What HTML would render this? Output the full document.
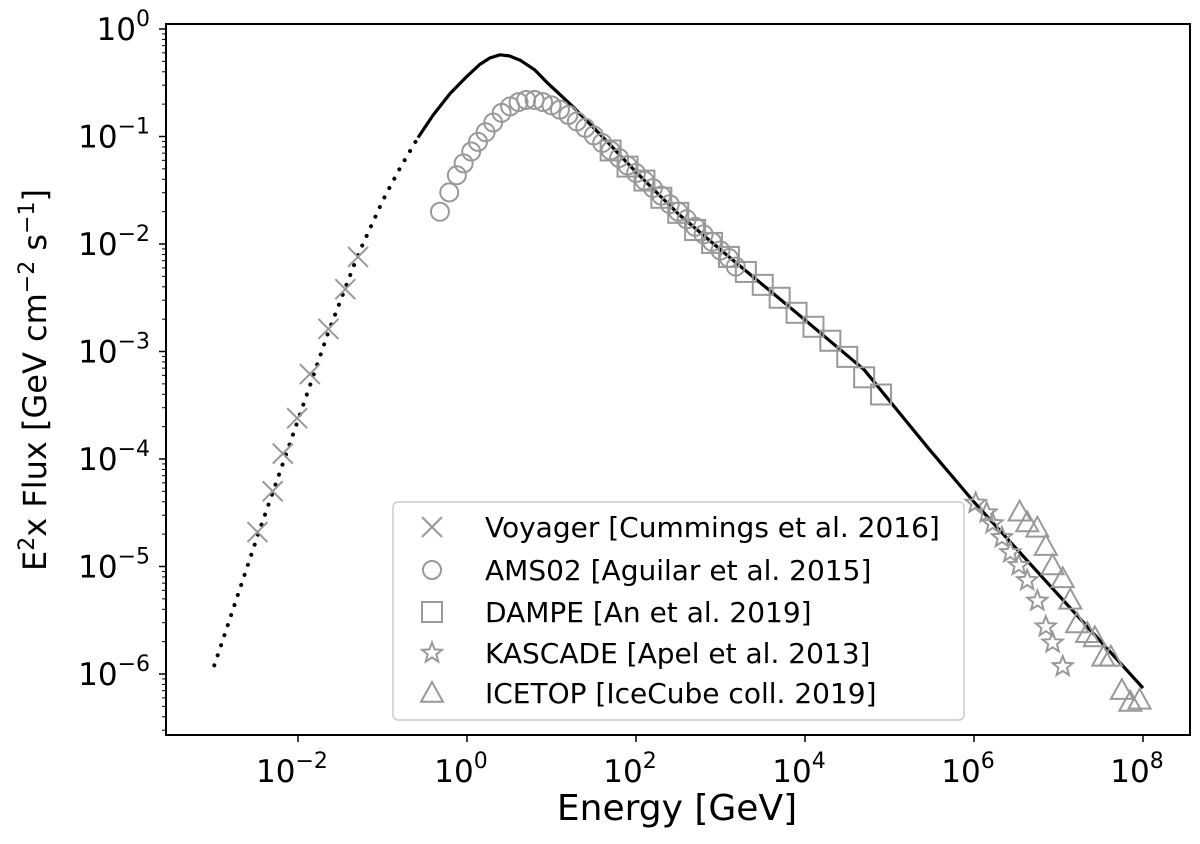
<!DOCTYPE html>
<html><head><meta charset="utf-8">
<style>
html,body{margin:0;padding:0;background:#fff;}
svg{display:block;font-family:"DejaVu Sans","Liberation Sans",sans-serif;}
</style></head>
<body>
<svg id="chart" width="1200" height="844" viewBox="0 0 1200 844" xmlns="http://www.w3.org/2000/svg">
<rect x="166" y="24" width="1024" height="711" fill="#fff"/>
<g id="marks"></g>
<rect x="166" y="24" width="1024" height="711" fill="none" stroke="#000" stroke-width="2"/>
<g id="axes"></g>
<text x="677" y="820" font-size="36" text-anchor="middle">Energy [GeV]</text>
<text transform="translate(46,380) rotate(-90)" font-size="32" text-anchor="middle">E<tspan dy="-12" font-size="22">2</tspan><tspan dy="12">x Flux [GeV cm</tspan><tspan dy="-12" font-size="22">−2</tspan><tspan dy="12"> s</tspan><tspan dy="-12" font-size="22">−1</tspan><tspan dy="12">]</tspan></text>
<g id="legend"></g>
</svg>
<script>
// data (log10 values)
const modelSolidLogE = [-0.58,-0.40,-0.20,0.0,0.15,0.27,0.39,0.50,0.63,0.80,0.95,1.10,1.25,1.6,2.0,2.5,3.1,3.9,4.7,5.46,6.0,8.0];
const modelSolidLogF = [-1.01,-0.80,-0.60,-0.44,-0.33,-0.27,-0.24,-0.25,-0.29,-0.38,-0.50,-0.61,-0.72,-1.00,-1.33,-1.72,-2.12,-2.64,-3.17,-3.90,-4.40,-6.13];
const modelDotLogE = [-2.99,-2.48,-2.01,-1.64,-1.29,-1.0,-0.79,-0.58];
const modelDotLogF = [-5.92,-4.72,-3.66,-2.82,-2.10,-1.60,-1.29,-1.01];
const voyagerLogE = [-1.29,-1.44,-1.64,-1.86,-2.01,-2.18,-2.30,-2.48];
const voyagerLogF = [-2.12,-2.42,-2.79,-3.21,-3.62,-3.95,-4.30,-4.68];
const amsLogE = [-0.32,-0.21,-0.12,-0.04,0.05,0.13,0.22,0.31,0.41,0.51,0.61,0.70,0.80,0.90,1.00,1.10,1.20,1.30,1.40,1.50,1.60,1.70,1.80,1.90,2.00,2.10,2.20,2.30,2.40,2.50,2.60,2.70,2.80,2.90,3.00,3.10,3.18];
const amsLogF = [-1.70,-1.52,-1.36,-1.25,-1.14,-1.05,-0.96,-0.87,-0.78,-0.72,-0.68,-0.66,-0.66,-0.68,-0.71,-0.75,-0.80,-0.86,-0.92,-0.99,-1.06,-1.13,-1.20,-1.27,-1.34,-1.41,-1.48,-1.55,-1.63,-1.70,-1.77,-1.84,-1.91,-1.98,-2.06,-2.13,-2.21];
const dampeLogE = [1.7,1.9,2.1,2.3,2.5,2.7,2.9,3.1,3.3,3.5,3.7,3.9,4.1,4.3,4.5,4.7,4.9];
const dampeLogF = [-1.13,-1.28,-1.41,-1.57,-1.71,-1.87,-1.99,-2.12,-2.26,-2.38,-2.50,-2.64,-2.77,-2.90,-3.05,-3.24,-3.40];
const kascadeLogE = [6.02,6.15,6.22,6.33,6.43,6.53,6.63,6.75,6.85,6.93,7.05];
const kascadeLogF = [-4.41,-4.50,-4.60,-4.73,-4.87,-4.99,-5.13,-5.32,-5.56,-5.71,-5.93];
const icetopLogE = [6.54,6.63,6.75,6.85,6.93,7.05,7.14,7.22,7.34,7.43,7.53,7.62,7.75,7.85,7.96];
const icetopLogF = [-4.49,-4.59,-4.64,-4.81,-4.99,-5.11,-5.31,-5.53,-5.62,-5.66,-5.84,-5.84,-6.15,-6.26,-6.24];
const xTickExps = [-2,0,2,4,6,8];
const yTickExps = [0,-1,-2,-3,-4,-5,-6];
const legendLabels = ["Voyager [Cummings et al. 2016]","AMS02 [Aguilar et al. 2015]","DAMPE [An et al. 2019]","KASCADE [Apel et al. 2013]","ICETOP [IceCube coll. 2019]"];

const NS = "http://www.w3.org/2000/svg";
const X = l => 467 + 84.5 * l;
const Y = l => 29 - 107.5 * l;
const GREY = "#999";
function mk(tag, attrs, parent){ const e=document.createElementNS(NS,tag); for(const k in attrs) e.setAttribute(k,attrs[k]); parent.appendChild(e); return e; }
const marks = document.getElementById('marks');
const axes = document.getElementById('axes');
const legend = document.getElementById('legend');

function pathD(xs, ys){ return xs.map((v,i)=>(i?'L':'M')+X(v).toFixed(1)+' '+Y(ys[i]).toFixed(1)).join(' '); }

function drawMarker(kind, cx, cy, parent){
  let e;
  if(kind==='x'){ const s=10; e=mk('path',{d:`M${cx-s} ${cy-s}L${cx+s} ${cy+s}M${cx-s} ${cy+s}L${cx+s} ${cy-s}`,stroke:GREY,'stroke-width':2,fill:'none'},parent); }
  else if(kind==='o'){ e=mk('circle',{cx:cx,cy:cy,r:9,stroke:GREY,'stroke-width':2,fill:'none'},parent); }
  else if(kind==='s'){ e=mk('rect',{x:cx-10,y:cy-10,width:20,height:20,stroke:GREY,'stroke-width':2,fill:'none'},parent); }
  else if(kind==='*'){ let p=''; for(let i=0;i<10;i++){ const r=i%2?4.5:10.5; const a=-Math.PI/2+i*Math.PI/5; p+=(i?'L':'M')+(cx+r*Math.cos(a)).toFixed(1)+' '+(cy+r*Math.sin(a)).toFixed(1);} e=mk('path',{d:p+'Z',stroke:GREY,'stroke-width':2,fill:'none'},parent); }
  else { const s=11; e=mk('path',{d:`M${cx} ${cy-s}L${cx+s} ${cy+s*0.8}L${cx-s} ${cy+s*0.8}Z`,stroke:GREY,'stroke-width':2,fill:'none'},parent); }
  return e;
}

const dot = mk('path',{d:pathD(modelDotLogE,modelDotLogF),stroke:'#000','stroke-width':4,fill:'none','stroke-dasharray':'0.1 10.5','stroke-linecap':'round'},marks);


const solid = mk('path',{d:pathD(modelSolidLogE,modelSolidLogF),stroke:'#000','stroke-width':3.2,fill:'none','stroke-linejoin':'round'},marks);



const series = [
  ['x',voyagerLogE,voyagerLogF,'voyager-point'],
  ['o',amsLogE,amsLogF,'ams02-point'],
  ['s',dampeLogE,dampeLogF,'dampe-point'],
  ['*',kascadeLogE,kascadeLogF,'kascade-point'],
  ['^',icetopLogE,icetopLogF,'icetop-point']
];
series.forEach(s=>{
  s[1].forEach((v,i)=>{
    const m = drawMarker(s[0], X(v), Y(s[2][i]), marks);
    
    
  });
});

xTickExps.forEach(e=>{
  const x=X(e);
  mk('line',{x1:x,x2:x,y1:735,y2:742,stroke:'#000','stroke-width':1.5},axes);
  const t=mk('text',{x:x-6,y:782,'font-size':31,'text-anchor':'middle'},axes);
  
  
  t.innerHTML='10<tspan dy="-14" font-size="22">'+(e<0?'−'+(-e):e)+'</tspan>';
});
for(let d=-7; d<=0; d++){
  for(let k=1;k<10;k++){
    const l=d+Math.log10(k); const y=Y(l);
    if(y<24||y>735) continue;
    mk('line',{x1:166,x2:k===1?159:162,y1:y,y2:y,stroke:'#000','stroke-width':k===1?1.5:1},axes);
  }
}
yTickExps.forEach(e=>{
  const y=Y(e);
  const t=mk('text',{x:150,y:y+11,'font-size':31,'text-anchor':'end'},axes);
  
  
  t.innerHTML='10<tspan dy="-14" font-size="22">'+(e<0?'−'+(-e):e)+'</tspan>';
});

mk('rect',{x:393,y:502,width:571,height:218,rx:5,fill:'#fff','fill-opacity':0.85,stroke:'#ccc','stroke-width':1.5},legend);
const kinds=['x','o','s','*','^'];
const rowsY=[527,570,612,653,693];
legendLabels.forEach((lab,i)=>{
  const g=mk('g',{},legend);
  
  
  drawMarker(kinds[i],432,rowsY[i],g);
  const t=mk('text',{x:485,y:rowsY[i]+10,'font-size':28},g);
  t.textContent=lab;
});
</script>
</body></html>
